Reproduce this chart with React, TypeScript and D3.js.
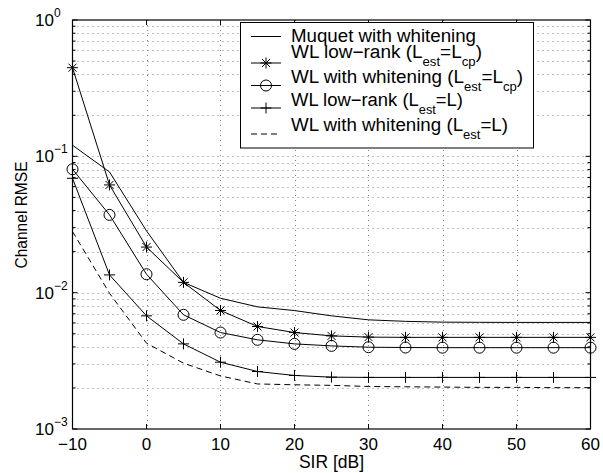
import React from "react";
import * as d3 from "d3";

const sir = [-10, -5, 0, 5, 10, 15, 20, 25, 30, 35, 40, 45, 50, 55, 60];
const muquet = [0.1206, 0.0768, 0.0284, 0.0119, 0.0091, 0.00787, 0.00739, 0.00676, 0.00632, 0.00616, 0.00608, 0.00606, 0.00605, 0.00605, 0.00605];
const wlLowRankCp = [0.447, 0.0617, 0.0216, 0.0119, 0.0074, 0.00565, 0.0051, 0.00482, 0.00472, 0.0047, 0.0047, 0.0047, 0.0047, 0.0047, 0.0047];
const wlWhitenCp = [0.0804, 0.0372, 0.01365, 0.00688, 0.0051, 0.00451, 0.00421, 0.00407, 0.00398, 0.00396, 0.00395, 0.00395, 0.00395, 0.00395, 0.00395];
const wlLowRankL = [0.069, 0.0135, 0.00676, 0.00421, 0.00309, 0.00264, 0.00247, 0.0024, 0.00239, 0.00239, 0.00239, 0.00239, 0.00239, 0.00239, 0.00239];
const wlWhitenL = [0.0281, 0.0099, 0.00426, 0.00304, 0.00245, 0.00214, 0.00211, 0.00209, 0.00205, 0.00204, 0.00203, 0.00202, 0.00202, 0.00201, 0.00201];

const xTicks = [-10, 0, 10, 20, 30, 40, 50, 60];
const yDecades = [-3, -2, -1, 0];

const W = 603, H = 473;
const FONT = "'Liberation Sans', Arial, Helvetica, sans-serif";

const x = d3.scaleLinear().domain([-10, 60]).range([72.5, 590.5]);
const y = d3.scaleLog().domain([1e-3, 1]).range([429, 20]);

type Marker = "none" | "star" | "circle" | "plus";

function MarkerShape({ type, cx, cy }: { type: Marker; cx: number; cy: number }) {
  if (type === "circle") return <circle cx={cx} cy={cy} r={5.5} fill="none" stroke="#000" strokeWidth={1} />;
  if (type === "plus")
    return (
      <path d={`M${cx - 5.5},${cy}H${cx + 5.5}M${cx},${cy - 5.5}V${cy + 5.5}`} stroke="#000" strokeWidth={1} fill="none" />
    );
  if (type === "star") {
    const a = 5.5, b = 4;
    return (
      <path
        d={`M${cx - a},${cy}H${cx + a}M${cx},${cy - a}V${cy + a}M${cx - b},${cy - b}L${cx + b},${cy + b}M${cx - b},${cy + b}L${cx + b},${cy - b}`}
        stroke="#000"
        strokeWidth={1}
        fill="none"
      />
    );
  }
  return null;
}

const SUB = 12.5;
const SD = 8;

const series: { label: React.ReactNode; values: number[]; marker: Marker; dash?: string }[] = [
  { label: "Muquet with whitening", values: muquet, marker: "none" },
  {
    label: (
      <>
        WL low−rank (L<tspan dy={SD} fontSize={SUB}>est</tspan>
        <tspan dy={-SD}>=L</tspan>
        <tspan dy={SD} fontSize={SUB}>cp</tspan>
        <tspan dy={-SD}>)</tspan>
      </>
    ),
    values: wlLowRankCp,
    marker: "star",
  },
  {
    label: (
      <>
        WL with whitening (L<tspan dy={SD} fontSize={SUB}>est</tspan>
        <tspan dy={-SD}>=L</tspan>
        <tspan dy={SD} fontSize={SUB}>cp</tspan>
        <tspan dy={-SD}>)</tspan>
      </>
    ),
    values: wlWhitenCp,
    marker: "circle",
  },
  {
    label: (
      <>
        WL low−rank (L<tspan dy={SD} fontSize={SUB}>est</tspan>
        <tspan dy={-SD}>=L)</tspan>
      </>
    ),
    values: wlLowRankL,
    marker: "plus",
  },
  {
    label: (
      <>
        WL with whitening (L<tspan dy={SD} fontSize={SUB}>est</tspan>
        <tspan dy={-SD}>=L)</tspan>
      </>
    ),
    values: wlWhitenL,
    marker: "none",
    dash: "6 4",
  },
];

const legendRows = [
  { ly: 36.5, ty: 42, len: 185 },
  { ly: 63, ty: 58, len: 191 },
  { ly: 85.5, ty: 83, len: 232 },
  { ly: 108, ty: 106, len: 172 },
  { ly: 134, ty: 131, len: 217 },
];

export default function App() {
  const line = d3
    .line<number>()
    .x((_, i) => x(sir[i]))
    .y((d) => y(d));

  const x0 = x(-10), x1 = x(60), yT = y(1), yB = y(1e-3);
  const minor: number[] = [];
  yDecades.slice(0, 3).forEach((e) => {
    for (let k = 2; k <= 9; k++) minor.push(k * Math.pow(10, e));
  });

  return (
    <svg width={W} height={H} style={{ position: "absolute", left: 0, top: 0, background: "#fff" }} fontFamily={FONT}>
      <rect x={0} y={0} width={W} height={H} fill="#fff" />
      {/* grid */}
      <g stroke="#808080" strokeWidth={1} strokeDasharray="1 4" fill="none">
        {xTicks.slice(1, -1).map((t) => (
          <line key={"gx" + t} x1={Math.round(x(t)) + 0.5} x2={Math.round(x(t)) + 0.5} y1={yT} y2={yB} />
        ))}
        {yDecades.slice(1, 3).map((e) => (
          <line key={"gy" + e} x1={x0} x2={x1} y1={Math.round(y(Math.pow(10, e))) + 0.5} y2={Math.round(y(Math.pow(10, e))) + 0.5} />
        ))}
        {minor.map((v) => (
          <line key={"gm" + v} x1={x0} x2={x1} y1={Math.round(y(v)) + 0.5} y2={Math.round(y(v)) + 0.5} />
        ))}
      </g>
      {/* data */}
      {series.map((s, si) => (
        <g key={"s" + si}>
          <path d={line(s.values) || ""} fill="none" stroke="#000" strokeWidth={1} strokeDasharray={s.dash} />
          {s.marker !== "none" &&
            s.values.map((v, i) => <MarkerShape key={i} type={s.marker} cx={x(sir[i])} cy={y(v)} />)}
        </g>
      ))}
      {/* axes box */}
      <rect x={x0} y={yT} width={x1 - x0} height={yB - yT} fill="none" stroke="#000" strokeWidth={1.2} />
      {/* ticks */}
      <g stroke="#000" strokeWidth={1}>
        {xTicks.map((t) => (
          <g key={"tx" + t}>
            <line x1={x(t)} x2={x(t)} y1={yB} y2={yB - 5} />
            <line x1={x(t)} x2={x(t)} y1={yT} y2={yT + 5} />
          </g>
        ))}
        {yDecades.map((e) => (
          <g key={"ty" + e}>
            <line x1={x0} x2={x0 + 5} y1={y(Math.pow(10, e))} y2={y(Math.pow(10, e))} />
            <line x1={x1} x2={x1 - 5} y1={y(Math.pow(10, e))} y2={y(Math.pow(10, e))} />
          </g>
        ))}
        {minor.map((v) => (
          <g key={"tm" + v}>
            <line x1={x0} x2={x0 + 3} y1={y(v)} y2={y(v)} />
            <line x1={x1} x2={x1 - 3} y1={y(v)} y2={y(v)} />
          </g>
        ))}
      </g>
      {/* tick labels */}
      <g fontSize={17} fill="#000">
        {xTicks.map((t) => (
          <text key={"lx" + t} x={x(t)} y={450} textAnchor="middle">
            {t < 0 ? "−" + Math.abs(t) : String(t)}
          </text>
        ))}
        {yDecades.map((e) => (
          <text key={"ly" + e} x={35} y={y(Math.pow(10, e)) + 6}>
            10
            <tspan dy={-9} fontSize={12}>
              {e < 0 ? "−" + Math.abs(e) : String(e)}
            </tspan>
          </text>
        ))}
      </g>
      {/* axis labels */}
      <text x={(x0 + x1) / 2} y={468} textAnchor="middle" fontSize={17.5}>
        SIR [dB]
      </text>
      <text
        transform={`translate(26.5,${215}) rotate(-90)`}
        textAnchor="middle"
        fontSize={17}
        textLength={107}
        lengthAdjust="spacingAndGlyphs"
      >
        Channel RMSE
      </text>
      {/* legend */}
      <rect x={240.5} y={22.5} width={293} height={125.5} fill="#fff" stroke="#000" strokeWidth={1} />
      {series.map((s, i) => {
        const r = legendRows[i];
        return (
          <g key={"lg" + i}>
            <line x1={251} x2={281} y1={r.ly} y2={r.ly} stroke="#000" strokeWidth={1} strokeDasharray={s.dash} />
            {s.marker !== "none" && <MarkerShape type={s.marker} cx={266} cy={r.ly} />}
            <text x={291} y={r.ty} fontSize={18} textLength={r.len} lengthAdjust="spacingAndGlyphs">
              {s.label}
            </text>
          </g>
        );
      })}
    </svg>
  );
}
